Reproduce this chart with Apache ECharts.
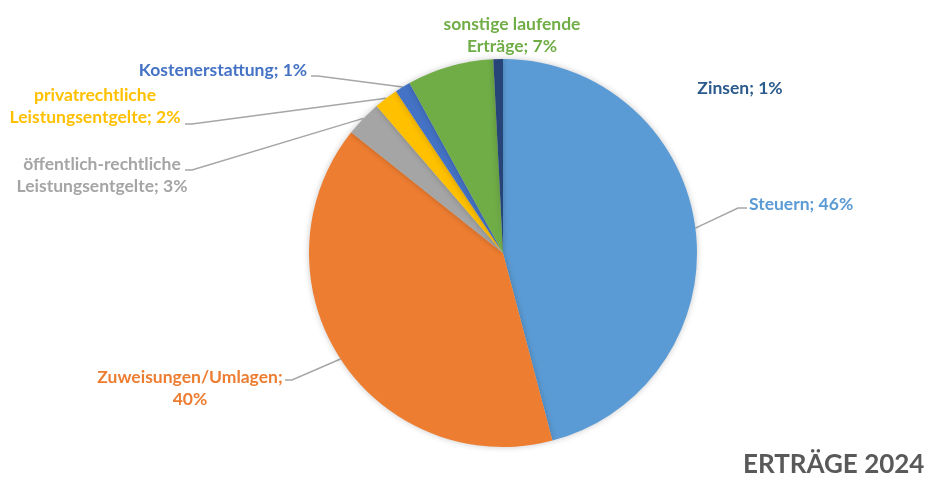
<!DOCTYPE html>
<html>
<head>
<meta charset="utf-8">
<script src="https://cdn.jsdelivr.net/npm/echarts@6/dist/echarts.min.js"></script>
<style>
html,body{margin:0;padding:0;background:#fff;}
#chart{width:929px;height:477px;}
</style>
</head>
<body>
<div id="chart"></div>
<script>
// ---- data ----
var categories = ['Steuern', 'Zuweisungen/Umlagen', 'öffentlich-rechtliche Leistungsentgelte', 'privatrechtliche Leistungsentgelte', 'Kostenerstattung', 'sonstige laufende Erträge', 'Zinsen'];
var shares = [45.9, 39.8, 3.0, 2.0, 1.3, 7.2, 0.8];
var titleText = 'ERTRÄGE 2024';

// ---- styles / layout ----
var colors = ['#5B9BD5', '#ED7D31', '#A5A5A5', '#FFC000', '#4472C4', '#70AD47', '#264478'];
var labelColors = ['#5B9BD5', '#ED7D31', '#A5A5A5', '#FFC000', '#4472C4', '#70AD47', '#2B5A8C'];
// wrap: 0 none, 1 break at last space of name, 2 break before percentage
var labelWrap = [0, 2, 1, 1, 0, 1, 0];
var labelLayoutCfg = [
  { x: 749, y: 204, align: 'left', line: [[738, 208], [747, 208]] },
  { x: 190, y: 388, align: 'center', line: [[292, 380], [285, 380]] },
  { x: 102, y: 175, align: 'center', line: [[192, 170], [185, 170]] },
  { x: 95, y: 106, align: 'center', line: [[192, 124], [185, 124]] },
  { x: 223, y: 70, align: 'center', line: [[318, 76], [311, 76]] },
  { x: 512, y: 35, align: 'center', line: null },
  { x: 740, y: 88, align: 'center', line: null }
];

var chart = echarts.init(document.getElementById('chart'), null, { renderer: 'canvas' });

var seriesData = categories.map(function (c, i) {
  return {
    name: c,
    value: shares[i],
    itemStyle: { color: colors[i] },
    label: { color: labelColors[i] },
    labelLine: { show: !!labelLayoutCfg[i].line }
  };
});

chart.setOption({
  animation: false,
  backgroundColor: '#ffffff',
  title: {
    text: titleText,
    left: 738,
    top: 447,
    textStyle: { fontFamily: 'Lato', fontWeight: 'bold', fontSize: 26, color: '#595959' }
  },
  series: [{
    type: 'pie',
    center: [503, 253],
    radius: 194,
    startAngle: 90,
    clockwise: true,
    avoidLabelOverlap: false,
    data: seriesData,
    itemStyle: {
      borderWidth: 0,
      shadowBlur: 6,
      shadowColor: 'rgba(0,0,0,0.22)'
    },
    label: {
      show: true,
      position: 'outside',
      fontFamily: 'Lato',
      fontWeight: 'bold',
      fontSize: 17.5,
      lineHeight: 22,
      align: 'center',
      formatter: function (p) {
        var pct = Math.round(p.percent) + '%';
        var w = labelWrap[p.dataIndex];
        var name = p.name;
        if (w === 1) {
          var k = name.lastIndexOf(' ');
          return name.slice(0, k) + '\n' + name.slice(k + 1) + '; ' + pct;
        }
        if (w === 2) return name + ';\n' + pct;
        return name + '; ' + pct;
      }
    },
    labelLine: {
      show: true,
      length: 10,
      length2: 10,
      lineStyle: { color: '#A6A6A6', width: 1.4 }
    },
    labelLayout: function (params) {
      var cfg = labelLayoutCfg[params.dataIndex];
      var res = { x: cfg.x, y: cfg.y, align: cfg.align, verticalAlign: 'middle' };
      if (cfg.line && params.labelLinePoints) {
        res.labelLinePoints = [params.labelLinePoints[0], cfg.line[0], cfg.line[1]];
      }
      return res;
    }
  }]
});
</script>
</body>
</html>
